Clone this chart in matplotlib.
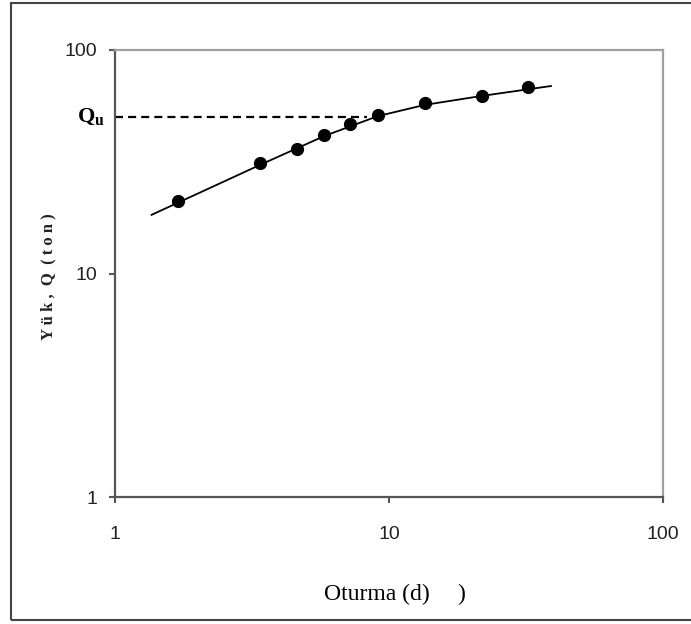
import numpy as np
import matplotlib.pyplot as plt
from matplotlib.patches import Rectangle
from matplotlib.ticker import FixedLocator, NullLocator

plt.rcParams['mathtext.fontset'] = 'custom'
plt.rcParams['mathtext.rm'] = 'Liberation Serif'
plt.rcParams['mathtext.bf'] = 'Liberation Serif:bold'

# Ölçülen noktalar: oturma (d) ve yük (Q)
oturma = [1.70, 3.38, 4.62, 5.79, 7.2, 9.12, 13.5, 21.8, 32.2]
yuk = [21.1, 31.2, 36.0, 41.7, 46.6, 51.2, 57.9, 62.3, 68.3]

# Elle çizilmiş eğri
egri_x = [1.36, 3.38, 5.8, 9.1, 13.5, 21.8, 39.0]
egri_y = [18.3, 30.6, 41.2, 50.6, 56.8, 62.3, 69.0]

# Qu seviyesi
qu = 50.0
qu_x = [1.0, 8.3]

ticks = [1, 10, 100]
tick_labels = ['1', '10', '100']

fig = plt.figure(figsize=(6.91, 6.24), dpi=100)
ax = fig.add_axes([115 / 691, 1 - 497 / 624, (663 - 115) / 691, (497 - 50) / 624])

ax.set_xscale('log')
ax.set_yscale('log')
ax.set_xlim(1, 100)
ax.set_ylim(1, 100)

ax.plot(egri_x, egri_y, color='black', lw=1.3, zorder=2)
ax.plot(oturma, yuk, 'o', color='black', ms=8.5, zorder=3)
ax.plot(qu_x, [qu, qu], color='black', lw=1.6, ls=(0, (3.6, 2.3)), zorder=2)

ax.xaxis.set_major_locator(FixedLocator(ticks))
ax.yaxis.set_major_locator(FixedLocator(ticks))
ax.xaxis.set_minor_locator(NullLocator())
ax.yaxis.set_minor_locator(NullLocator())
ax.set_xticklabels(tick_labels)
ax.set_yticklabels(tick_labels)
ax.tick_params(axis='both', direction='out', length=4, width=1.5, color='#555555',
               labelsize=14, labelcolor='#222222')
ax.tick_params(axis='x', pad=17)
ax.tick_params(axis='y', pad=9)
for lab in ax.get_xticklabels() + ax.get_yticklabels():
    lab.set_fontfamily('Liberation Sans')

for s in ['left', 'bottom']:
    ax.spines[s].set_color('#555555')
    ax.spines[s].set_linewidth(1.6)
for s in ['top', 'right']:
    ax.spines[s].set_color('#a0a0a0')
    ax.spines[s].set_linewidth(1.6)

ax.text(-0.069, qu, r'$\mathbf{Q}_{\mathbf{u}}$', transform=ax.get_yaxis_transform(),
        ha='left', va='center', fontsize=16)

fig.text(48 / 691, 1 - 277 / 624, 'Y ü k ,  Q  ( t o n )', rotation=90,
         ha='center', va='center', family='Liberation Serif', fontweight='bold',
         fontsize=12, color='#222222')
fig.text(377 / 691, 1 - 594 / 624, 'Oturma (d)', ha='center', va='center',
         family='Liberation Serif', fontsize=17, color='black')
fig.text(461 / 691, 1 - 594 / 624, ')', ha='center', va='center',
         family='Liberation Serif', fontsize=17, color='black')

fig.patches.append(Rectangle((11 / 691, 4 / 624), 1.0, 617 / 624, transform=fig.transFigure,
                             fill=False, edgecolor='#444444', lw=1.5))

fig.savefig('out.png', dpi=100)
